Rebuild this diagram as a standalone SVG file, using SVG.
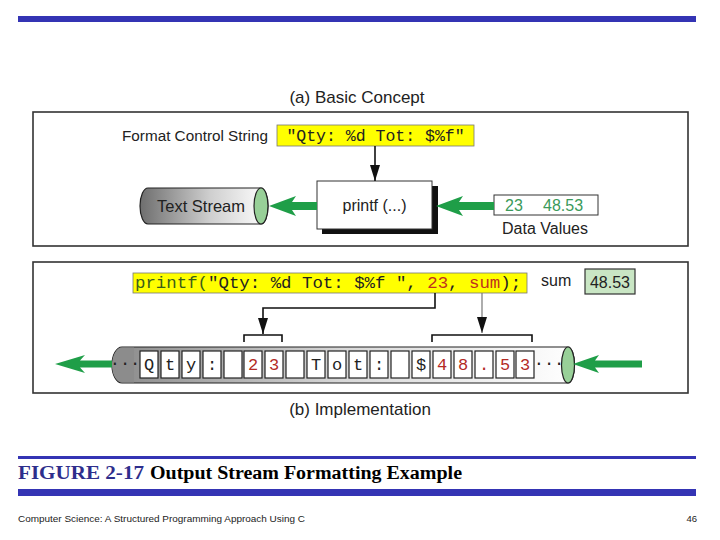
<svg xmlns="http://www.w3.org/2000/svg" width="720" height="540" viewBox="0 0 720 540">
<defs>
<linearGradient id="cyl" x1="0" y1="0" x2="1" y2="0">
<stop offset="0" stop-color="#6e6e6e"/>
<stop offset="0.55" stop-color="#cfcfcf"/>
<stop offset="1" stop-color="#ffffff"/>
</linearGradient>
<linearGradient id="cylb" x1="0" y1="0" x2="1" y2="0">
<stop offset="0" stop-color="#8a8a8a"/>
<stop offset="0.5" stop-color="#d8d8d8"/>
<stop offset="1" stop-color="#ffffff"/>
</linearGradient>
<marker id="ah" markerWidth="16" markerHeight="10" refX="16" refY="5" orient="auto" markerUnits="userSpaceOnUse" viewBox="0 0 16 10">
<path d="M0,0 L16,5 L0,10 Z" fill="#111"/>
</marker>
</defs>
<style>
.sans{font-family:"Liberation Sans",Arial,sans-serif;fill:#222}
.mono{font-family:"Liberation Mono","Courier New",monospace}
.panel{fill:#fff;stroke:#333;stroke-width:1.6}
.yel{fill:#ffff00;stroke:#777;stroke-width:0.8}
.cell{fill:#fff;stroke:#222;stroke-width:1.2}
.ct{font-family:"Liberation Mono","Courier New",monospace;font-size:17px;text-anchor:middle;fill:#222}
.red{fill:#b32a25}
.grn{fill:#1f9e48}
.blk{fill:none;stroke:#111;stroke-width:1.6}
.bar{fill:#3434b4}
.cap{font-family:"Liberation Serif","Times New Roman",serif;font-weight:bold;font-size:18.5px}
</style>

<rect class="bar" x="18" y="16" width="678" height="6"/>

<text class="sans" x="357" y="103" font-size="17" text-anchor="middle">(a) Basic Concept</text>
<rect class="panel" x="33" y="112" width="655" height="134"/>

<g id="format-string">
<text class="sans" x="122" y="141" font-size="14" textLength="146" lengthAdjust="spacingAndGlyphs">Format Control String</text>
<rect class="yel" x="277" y="125" width="197" height="21"/>
<text class="mono" x="375.5" y="141" font-size="16.5" text-anchor="middle" fill="#222">"Qty: %d Tot: $%f"</text>
</g>

<g id="text-stream">
<path d="M148,188 H261 A7,18 0 0 1 261,224 H148 A8,18 0 0 1 148,188 Z" fill="url(#cyl)" stroke="#222" stroke-width="1.2"/>
<ellipse cx="261" cy="206" rx="7" ry="18" fill="#98d098" stroke="#222" stroke-width="1.2"/>
<text class="sans" x="201" y="212" font-size="16.5" text-anchor="middle">Text Stream</text>
</g>

<g id="printf-box">
<rect x="322" y="186" width="116" height="48" fill="#111"/>
<rect x="317" y="181" width="115" height="48" fill="#fff" stroke="#333" stroke-width="1"/>
<text class="sans" x="374.5" y="211" font-size="16" text-anchor="middle">printf (...)</text>
</g>

<g id="data-values">
<rect x="494" y="195" width="104" height="20" fill="#fff" stroke="#333" stroke-width="1"/>
<text class="sans" x="505" y="211" font-size="16" style="fill:#3a9a5a">23</text>
<text class="sans" x="543" y="211" font-size="16" style="fill:#3a9a5a">48.53</text>
<text class="sans" x="545" y="234" font-size="16" text-anchor="middle">Data Values</text>
</g>

<rect class="panel" x="33" y="262" width="655" height="131"/>
<text class="sans" x="360" y="415" font-size="17" text-anchor="middle">(b) Implementation</text>

<g id="printf-code">
<rect class="yel" x="133" y="273" width="394" height="20"/>
<text class="mono" x="135" y="288" font-size="17.4" fill="#222"><tspan fill="#3b5e1a">printf(</tspan>"Qty: %d Tot: $%f ", <tspan fill="#c0321e">23</tspan>, <tspan fill="#c0321e">sum</tspan>);</text>
</g>

<g id="sum-var">
<text class="sans" x="541" y="286" font-size="16">sum</text>
<rect x="585" y="269" width="50" height="25" fill="#c9e6c4" stroke="#333" stroke-width="1.2"/>
<text class="sans" x="610" y="288" font-size="16" text-anchor="middle">48.53</text>
</g>

<g id="output-stream">
<path d="M122,347 H568 A6.5,18 0 0 1 568,383 H122 A10,18 0 0 1 122,347 Z" fill="url(#cylb)" stroke="#222" stroke-width="1.2"/>
<path d="M122,347.6 H134 V382.4 H122 A10,17.4 0 0 1 122,347.6 Z" fill="#8c8c8c" stroke="none"/>
<text class="ct" x="125" y="368">···</text>
<g>
<rect class="cell" x="140" y="351" width="18" height="27"/>
<rect class="cell" x="161" y="351" width="18" height="27"/>
<rect class="cell" x="182" y="351" width="18" height="27"/>
<rect class="cell" x="203" y="351" width="18" height="27"/>
<rect class="cell" x="224" y="351" width="18" height="27"/>
<rect class="cell" x="244" y="351" width="18" height="27"/>
<rect class="cell" x="265" y="351" width="18" height="27"/>
<rect class="cell" x="286" y="351" width="18" height="27"/>
<rect class="cell" x="307" y="351" width="18" height="27"/>
<rect class="cell" x="328" y="351" width="18" height="27"/>
<rect class="cell" x="349" y="351" width="18" height="27"/>
<rect class="cell" x="370" y="351" width="18" height="27"/>
<rect class="cell" x="391" y="351" width="18" height="27"/>
<rect class="cell" x="412" y="351" width="18" height="27"/>
<rect class="cell" x="433" y="351" width="18" height="27"/>
<rect class="cell" x="454" y="351" width="18" height="27"/>
<rect class="cell" x="475" y="351" width="18" height="27"/>
<rect class="cell" x="496" y="351" width="18" height="27"/>
<rect class="cell" x="516" y="351" width="18" height="27"/>
</g>
<text class="ct" x="149" y="370">Q</text>
<text class="ct" x="170" y="370">t</text>
<text class="ct" x="191" y="370">y</text>
<text class="ct" x="212" y="370">:</text>
<text class="ct red" x="253" y="370">2</text>
<text class="ct red" x="274" y="370">3</text>
<text class="ct" x="316" y="370">T</text>
<text class="ct" x="337" y="370">o</text>
<text class="ct" x="358" y="370">t</text>
<text class="ct" x="379" y="370">:</text>
<text class="ct" x="421" y="370">$</text>
<text class="ct red" x="442" y="370">4</text>
<text class="ct red" x="463" y="370">8</text>
<text class="ct red" x="484" y="370">.</text>
<text class="ct red" x="505" y="370">5</text>
<text class="ct red" x="525" y="370">3</text>
<text class="ct" x="549" y="368">···</text>
<ellipse cx="568" cy="365" rx="6.5" ry="18" fill="#98d098" stroke="#222" stroke-width="1.2"/>
</g>

<g id="connectors">
<line x1="375" y1="146" x2="375" y2="181" stroke="#111" stroke-width="1.6" marker-end="url(#ah)"/>
<polygon class="grn" points="269,206 296,196 292,202 317,202 317,210 292,210 296,216"/>
<polygon class="grn" points="436,206 463,196 459,202 494,202 494,210 459,210 463,216"/>
<polyline points="435,293 435,308 263,308 263,334" fill="none" stroke="#111" stroke-width="1.6" marker-end="url(#ah)"/>
<line x1="482" y1="293" x2="482" y2="333" stroke="#777" stroke-width="1.2" marker-end="url(#ah)"/>
<polyline class="blk" points="244,342 244,335 282,335 282,342"/>
<polyline class="blk" points="432,342 432,335 532,335 532,342"/>
<polygon class="grn" points="55,364 85,355 80,360.5 112,360.5 112,367.5 80,367.5 85,373"/>
<polygon class="grn" points="573,364 599,355 595,360.5 642,360.5 642,367.5 595,367.5 599,373"/>
</g>

<rect class="bar" x="18" y="456" width="678" height="3"/>
<text class="cap" x="18" y="479" fill="#2e2e8c" textLength="126" lengthAdjust="spacingAndGlyphs">FIGURE 2-17</text>
<text class="cap" x="150" y="479" fill="#000" textLength="312" lengthAdjust="spacingAndGlyphs">Output Stream Formatting Example</text>
<rect class="bar" x="18" y="489" width="678" height="7"/>
<text class="sans" x="18" y="522" font-size="9.5" textLength="287" lengthAdjust="spacingAndGlyphs">Computer Science: A Structured Programming Approach Using C</text>
<text class="sans" x="697" y="522" font-size="9.5" text-anchor="end">46</text>
</svg>
